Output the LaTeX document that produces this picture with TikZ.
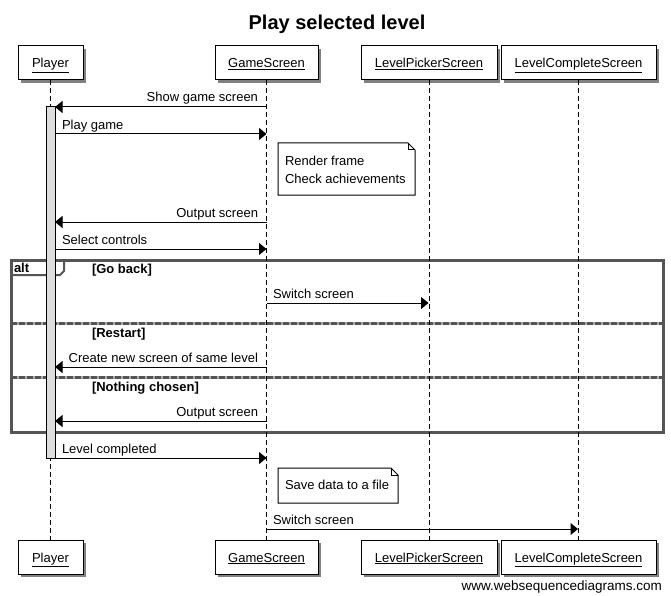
\documentclass[tikz,border=0pt]{standalone}
\usepackage{fontspec}
\setmainfont{Liberation Sans}
\usetikzlibrary{arrows.meta,shadows}
\definecolor{framegray}{HTML}{555555}
\definecolor{lightsep}{HTML}{AAAAAA}
\definecolor{actgray}{HTML}{DDDDDD}
\begin{document}
\begin{tikzpicture}[x=1pt,y=-1pt,
 every node/.style={inner sep=0pt, outer sep=0pt},
 txt/.style={font=\fontsize{13}{15}\selectfont},
 guard/.style={font=\bfseries\fontsize{13}{15}\selectfont},
 pbox/.style={draw=black, line width=1pt, fill=white, minimum height=34pt,
   text height=13pt, text depth=3pt, font=\fontsize{13}{15}\selectfont,
   drop shadow={shadow xshift=3pt, shadow yshift=-3pt, fill=black!70, opacity=0.7}},
 lifeline/.style={draw=black, line width=1pt, dash pattern=on 5pt off 3pt},
 msg/.style={draw=black, line width=1pt, -{Triangle[length=7.5pt,width=12pt]}},
 actbar/.style={draw=black, line width=1pt, fill=actgray},
 notebox/.style={draw=black, line width=1pt, fill=white},
 frameline/.style={draw=framegray, line width=3pt},
 sepline/.style={draw=framegray, line width=3pt, dash pattern=on 6pt off 2pt},
]
\fill[white] (0,0) rectangle (671,596);
\useasboundingbox (0,0) rectangle (671,596);

% title
\node[font=\bfseries\fontsize{20}{24}\selectfont, anchor=base] (title) at (337,30) {Play selected level};

% alt frame (behind everything)
\draw[frameline] (11,260) rectangle (663,432);
\draw[draw=framegray, line width=2pt] (11,275) -- (60,275) -- (64,271) -- (64,260);
\node[guard, anchor=base west] (altlbl) at (14,272.5) {alt};
\draw[lightsep, line width=3pt] (11,323) -- (663,323);
\draw[sepline] (11,323) -- (663,323);
\draw[lightsep, line width=3pt] (11,377) -- (663,377);
\draw[sepline] (11,377) -- (663,377);
\node[guard, anchor=base west] (g1) at (92,273) {[Go back]};
\node[guard, anchor=base west] (g2) at (92,337) {[Restart]};
\node[guard, anchor=base west] (g3) at (92,391.5) {[Nothing chosen]};

% participants
\node[pbox, minimum width=65pt]  (pl) at (50.5,63) {\underline{Player}};
\node[pbox, minimum width=103pt] (gs) at (266.5,63) {\underline{GameScreen}};
\node[pbox, minimum width=136pt] (lp) at (429,63) {\underline{LevelPickerScreen}};
\node[pbox, minimum width=155pt] (lc) at (578.5,63) {\underline{LevelCompleteScreen}};
\node[pbox, minimum width=65pt]  (pl2) at (50.5,557) {\underline{Player}};
\node[pbox, minimum width=103pt] (gs2) at (266.5,557) {\underline{GameScreen}};
\node[pbox, minimum width=136pt] (lp2) at (429,557) {\underline{LevelPickerScreen}};
\node[pbox, minimum width=155pt] (lc2) at (578.5,557) {\underline{LevelCompleteScreen}};

% lifelines
\draw[lifeline] (pl) -- (pl2);
\draw[lifeline] (gs) -- (gs2);
\draw[lifeline] (lp) -- (lp2);
\draw[lifeline] (lc) -- (lc2);

% activation bar
\node[actbar, minimum width=9pt, minimum height=351pt, anchor=north] (act) at (50.5,107) {};

% message end points
\coordinate (gs1) at (266.5,107); \coordinate (ac1) at (55,107);
\coordinate (ac2) at (55,134);    \coordinate (gs2m) at (266.5,134);
\coordinate (gs3) at (266.5,222); \coordinate (ac3) at (55,222);
\coordinate (ac4) at (55,249);    \coordinate (gs4) at (266.5,249);
\coordinate (gs5) at (266.5,303); \coordinate (lp5) at (428.5,303);
\coordinate (gs6) at (266.5,367); \coordinate (ac6) at (55,367);
\coordinate (gs7) at (266.5,421); \coordinate (ac7) at (55,421);
\coordinate (ac8) at (55,458);    \coordinate (gs8) at (266.5,458);
\coordinate (gs9) at (266.5,529); \coordinate (lc9) at (578,529);

% messages
\draw[msg] (gs1) -- (ac1);
\node[txt, anchor=base east] (m1) at (258,102) {Show game screen};
\draw[msg] (ac2) -- (gs2m);
\node[txt, anchor=base west] (m2) at (62,129.5) {Play game};
\draw[msg] (gs3) -- (ac3);
\node[txt, anchor=base east] (m3) at (258,217.5) {Output screen};
\draw[msg] (ac4) -- (gs4);
\node[txt, anchor=base west] (m4) at (62,244.5) {Select controls};
\draw[msg] (gs5) -- (lp5);
\node[txt, anchor=base west] (m5) at (273,298.5) {Switch screen};
\draw[msg] (gs6) -- (ac6);
\node[txt, anchor=base east] (m6) at (258,362.5) {Create new screen of same level};
\draw[msg] (gs7) -- (ac7);
\node[txt, anchor=base east] (m7) at (258,416.5) {Output screen};
\draw[msg] (ac8) -- (gs8);
\node[txt, anchor=base west] (m8) at (62,453.5) {Level completed};
\draw[msg] (gs9) -- (lc9);
\node[txt, anchor=base west] (m9) at (273,524.5) {Switch screen};

% note 1
\draw[notebox] (278,143) -- (408,143) -- (415,150) -- (415,195) -- (278,195) -- cycle;
\draw[draw=black, line width=1pt] (408,143) -- (408,150) -- (415,150);
\node[txt, anchor=base west] (n1a) at (285,166) {Render frame};
\node[txt, anchor=base west] (n1b) at (285,183) {Check achievements};

% note 2
\draw[notebox] (278,468) -- (391,468) -- (398,475) -- (398,503) -- (278,503) -- cycle;
\draw[draw=black, line width=1pt] (391,468) -- (391,475) -- (398,475);
\node[txt, anchor=base west] (n2) at (285,489) {Save data to a file};

% watermark
\node[font=\fontsize{13.5}{16}\selectfont, anchor=base east] (wm) at (662,590) {www.websequencediagrams.com};
\end{tikzpicture}
\end{document}
